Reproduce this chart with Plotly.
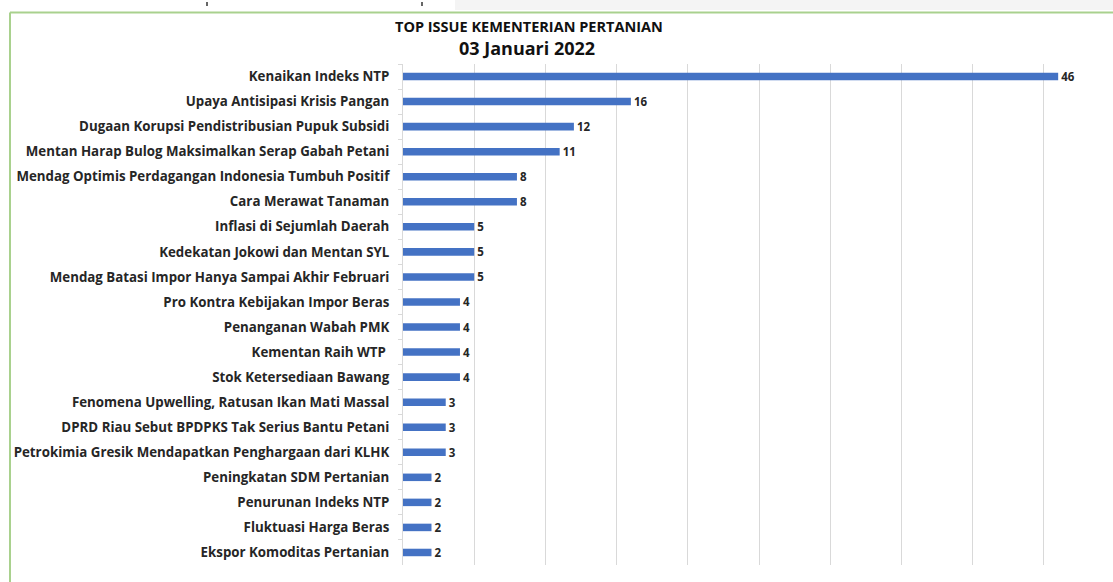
import plotly.graph_objects as go

categories = [
    "Kenaikan Indeks NTP",
    "Upaya Antisipasi Krisis Pangan",
    "Dugaan Korupsi Pendistribusian Pupuk Subsidi",
    "Mentan Harap Bulog Maksimalkan Serap Gabah Petani",
    "Mendag Optimis Perdagangan Indonesia Tumbuh Positif",
    "Cara Merawat Tanaman",
    "Inflasi di Sejumlah Daerah",
    "Kedekatan Jokowi dan Mentan SYL",
    "Mendag Batasi Impor Hanya Sampai Akhir Februari",
    "Pro Kontra Kebijakan Impor Beras",
    "Penanganan Wabah PMK",
    "Kementan Raih WTP ",
    "Stok Ketersediaan Bawang",
    "Fenomena Upwelling, Ratusan Ikan Mati Massal",
    "DPRD Riau Sebut BPDPKS Tak Serius Bantu Petani",
    "Petrokimia Gresik Mendapatkan Penghargaan dari KLHK",
    "Peningkatan SDM Pertanian",
    "Penurunan Indeks NTP",
    "Fluktuasi Harga Beras",
    "Ekspor Komoditas Pertanian",
]
values = [46, 16, 12, 11, 8, 8, 5, 5, 5, 4, 4, 4, 4, 3, 3, 3, 2, 2, 2, 2]
title_line1 = "TOP ISSUE KEMENTERIAN PERTANIAN"
title_line2 = "03 Januari 2022"

W, H = 1113, 582
ML, MR, MT, MB = 403, 0, 64, 17
PW = W - ML - MR
PH = H - MT - MB

def px(x):
    return (x - ML) / PW

def py(y):
    return (H - MB - y) / PH

FONT = "Open Sans"
DARK = "#262626"

fig = go.Figure()
fig.add_trace(go.Bar(
    x=values,
    y=categories,
    orientation="h",
    marker=dict(color="#4472c4", line=dict(width=0)),
    text=[str(v) for v in values],
    textposition="outside",
    constraintext="none",
    textfont=dict(family=FONT, size=11.5, color=DARK, weight="bold"),
    cliponaxis=False,
    width=0.3,
))

shapes = [
    dict(type="rect", xref="paper", yref="paper", x0=px(455), x1=px(1113), y0=py(10), y1=py(0),
         fillcolor="#f4f4f4", line=dict(width=0), layer="below"),
    dict(type="line", xref="paper", yref="paper", x0=px(10), x1=px(1113), y0=py(12.5), y1=py(12.5),
         line=dict(color="#a9d18e", width=2)),
    dict(type="line", xref="paper", yref="paper", x0=px(10), x1=px(10), y0=py(12.5), y1=py(582),
         line=dict(color="#a9d18e", width=2)),
    dict(type="line", xref="paper", yref="paper", x0=px(207), x1=px(207), y0=py(2), y1=py(6),
         line=dict(color="#333", width=1.5)),
    dict(type="line", xref="paper", yref="paper", x0=px(422), x1=px(422), y0=py(2), y1=py(6),
         line=dict(color="#333", width=1.5)),
]

fig.update_layout(
    width=W, height=H, autosize=False,
    margin=dict(l=ML, r=MR, t=MT, b=MB, pad=0),
    paper_bgcolor="white", plot_bgcolor="white",
    showlegend=False,
    shapes=shapes,
    xaxis=dict(range=[0, 49.85], dtick=5, showgrid=True, gridcolor="#d9d9d9", gridwidth=1,
               showticklabels=False, zeroline=False, showline=False, ticks=""),
    yaxis=dict(autorange="reversed", showgrid=False, showline=True, linecolor="#d9d9d9", linewidth=1,
               ticks="outside", tickson="boundaries", ticklen=4, tickcolor="#d9d9d9",
               ticklabelstandoff=10,
               tickfont=dict(family=FONT, size=13.3, color=DARK, weight="bold")),
    annotations=[
        dict(text=title_line1, xref="paper", yref="paper", x=px(529), y=py(26), showarrow=False,
             xanchor="center", yanchor="middle", font=dict(family=FONT, size=14.5, color="#111", weight="bold")),
        dict(text=title_line2, xref="paper", yref="paper", x=px(527), y=py(48), showarrow=False,
             xanchor="center", yanchor="middle", font=dict(family=FONT, size=18, color="#111", weight="bold")),
    ],
)

fig.write_html("out.html", config={"displayModeBar": False},
               post_script="document.body.style.margin='0';document.body.style.overflow='hidden';")
